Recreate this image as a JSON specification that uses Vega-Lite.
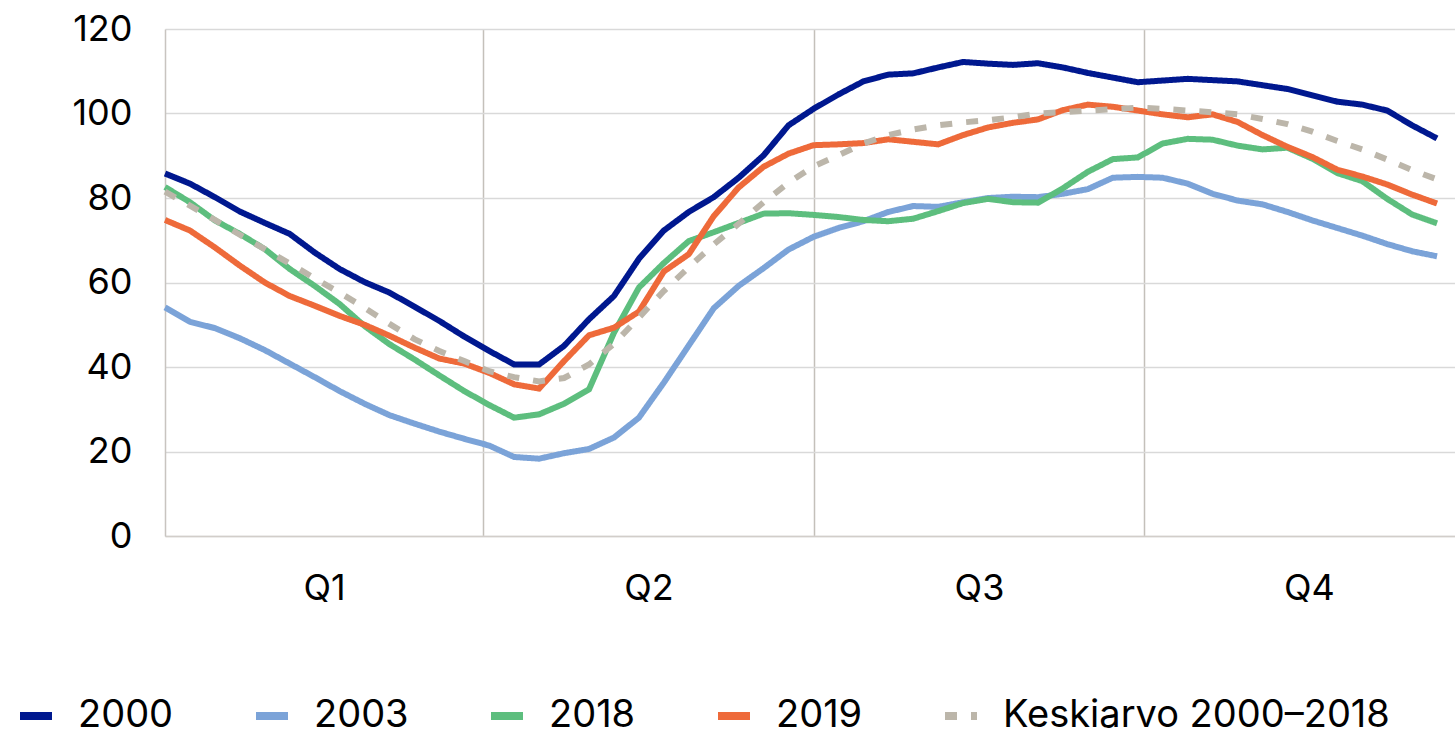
{
  "$schema": "https://vega.github.io/schema/vega-lite/v6.json",
  "width": 1290,
  "height": 507,
  "autosize": {"type": "none"},
  "padding": {"left": 165, "top": 29, "right": 0, "bottom": 202},
  "background": "white",
  "config": {"view": {"stroke": null}, "font": "Inter"},
  "data": {
    "values": [
      {"week": 1, "2000": 85.8, "2003": 54.1, "2018": 82.6, "2019": 74.8, "Keskiarvo 2000–2018": 81.5},
      {"week": 2, "2000": 83.4, "2003": 50.7, "2018": 79.0, "2019": 72.3, "Keskiarvo 2000–2018": 78.2},
      {"week": 3, "2000": 80.2, "2003": 49.2, "2018": 74.7, "2019": 68.3, "Keskiarvo 2000–2018": 74.8},
      {"week": 4, "2000": 76.8, "2003": 46.8, "2018": 71.5, "2019": 64.0, "Keskiarvo 2000–2018": 71.3},
      {"week": 5, "2000": 74.1, "2003": 44.0, "2018": 67.9, "2019": 60.0, "Keskiarvo 2000–2018": 67.9},
      {"week": 6, "2000": 71.5, "2003": 40.8, "2018": 63.2, "2019": 56.8, "Keskiarvo 2000–2018": 64.5},
      {"week": 7, "2000": 67.1, "2003": 37.6, "2018": 59.2, "2019": 54.5, "Keskiarvo 2000–2018": 61.0},
      {"week": 8, "2000": 63.2, "2003": 34.3, "2018": 54.9, "2019": 52.1, "Keskiarvo 2000–2018": 57.6},
      {"week": 9, "2000": 60.1, "2003": 31.3, "2018": 49.7, "2019": 50.0, "Keskiarvo 2000–2018": 54.0},
      {"week": 10, "2000": 57.6, "2003": 28.6, "2018": 45.4, "2019": 47.4, "Keskiarvo 2000–2018": 50.2},
      {"week": 11, "2000": 54.3, "2003": 26.6, "2018": 41.8, "2019": 44.6, "Keskiarvo 2000–2018": 46.6},
      {"week": 12, "2000": 50.9, "2003": 24.7, "2018": 38.0, "2019": 42.0, "Keskiarvo 2000–2018": 43.8},
      {"week": 13, "2000": 47.2, "2003": 23.0, "2018": 34.3, "2019": 40.8, "Keskiarvo 2000–2018": 41.4},
      {"week": 14, "2000": 43.8, "2003": 21.4, "2018": 31.0, "2019": 38.6, "Keskiarvo 2000–2018": 39.0},
      {"week": 15, "2000": 40.6, "2003": 18.7, "2018": 28.0, "2019": 35.9, "Keskiarvo 2000–2018": 37.6},
      {"week": 16, "2000": 40.6, "2003": 18.3, "2018": 28.8, "2019": 34.9, "Keskiarvo 2000–2018": 36.6},
      {"week": 17, "2000": 45.0, "2003": 19.6, "2018": 31.3, "2019": 41.4, "Keskiarvo 2000–2018": 37.4},
      {"week": 18, "2000": 51.3, "2003": 20.6, "2018": 34.7, "2019": 47.5, "Keskiarvo 2000–2018": 40.6},
      {"week": 19, "2000": 56.8, "2003": 23.3, "2018": 48.1, "2019": 49.3, "Keskiarvo 2000–2018": 45.5},
      {"week": 20, "2000": 65.6, "2003": 28.0, "2018": 58.8, "2019": 53.1, "Keskiarvo 2000–2018": 51.7},
      {"week": 21, "2000": 72.3, "2003": 36.3, "2018": 64.6, "2019": 62.6, "Keskiarvo 2000–2018": 58.0},
      {"week": 22, "2000": 76.7, "2003": 45.1, "2018": 69.8, "2019": 66.7, "Keskiarvo 2000–2018": 63.6},
      {"week": 23, "2000": 80.2, "2003": 53.9, "2018": 71.9, "2019": 75.7, "Keskiarvo 2000–2018": 69.0},
      {"week": 24, "2000": 84.8, "2003": 59.2, "2018": 74.1, "2019": 82.5, "Keskiarvo 2000–2018": 73.9},
      {"week": 25, "2000": 90.1, "2003": 63.4, "2018": 76.3, "2019": 87.4, "Keskiarvo 2000–2018": 79.0},
      {"week": 26, "2000": 97.2, "2003": 67.8, "2018": 76.4, "2019": 90.5, "Keskiarvo 2000–2018": 83.6},
      {"week": 27, "2000": 101.1, "2003": 70.8, "2018": 76.0, "2019": 92.5, "Keskiarvo 2000–2018": 87.5},
      {"week": 28, "2000": 104.5, "2003": 72.9, "2018": 75.5, "2019": 92.7, "Keskiarvo 2000–2018": 90.1},
      {"week": 29, "2000": 107.6, "2003": 74.5, "2018": 74.8, "2019": 93.0, "Keskiarvo 2000–2018": 92.9},
      {"week": 30, "2000": 109.2, "2003": 76.7, "2018": 74.5, "2019": 93.9, "Keskiarvo 2000–2018": 94.9},
      {"week": 31, "2000": 109.5, "2003": 78.1, "2018": 75.1, "2019": 93.3, "Keskiarvo 2000–2018": 96.2},
      {"week": 32, "2000": 110.9, "2003": 77.9, "2018": 76.9, "2019": 92.7, "Keskiarvo 2000–2018": 97.2},
      {"week": 33, "2000": 112.2, "2003": 79.0, "2018": 78.8, "2019": 94.9, "Keskiarvo 2000–2018": 97.9},
      {"week": 34, "2000": 111.8, "2003": 80.0, "2018": 79.8, "2019": 96.7, "Keskiarvo 2000–2018": 98.4},
      {"week": 35, "2000": 111.5, "2003": 80.3, "2018": 79.0, "2019": 97.8, "Keskiarvo 2000–2018": 99.1},
      {"week": 36, "2000": 111.9, "2003": 80.2, "2018": 78.9, "2019": 98.6, "Keskiarvo 2000–2018": 100.0},
      {"week": 37, "2000": 110.9, "2003": 81.0, "2018": 82.3, "2019": 100.8, "Keskiarvo 2000–2018": 100.3},
      {"week": 38, "2000": 109.6, "2003": 82.1, "2018": 86.2, "2019": 102.1, "Keskiarvo 2000–2018": 100.7},
      {"week": 39, "2000": 108.5, "2003": 84.8, "2018": 89.2, "2019": 101.6, "Keskiarvo 2000–2018": 101.0},
      {"week": 40, "2000": 107.4, "2003": 85.0, "2018": 89.6, "2019": 100.7, "Keskiarvo 2000–2018": 101.4},
      {"week": 41, "2000": 107.8, "2003": 84.8, "2018": 92.9, "2019": 99.8, "Keskiarvo 2000–2018": 101.1},
      {"week": 42, "2000": 108.2, "2003": 83.4, "2018": 94.0, "2019": 99.1, "Keskiarvo 2000–2018": 100.7},
      {"week": 43, "2000": 107.9, "2003": 81.0, "2018": 93.8, "2019": 99.8, "Keskiarvo 2000–2018": 100.3},
      {"week": 44, "2000": 107.6, "2003": 79.4, "2018": 92.4, "2019": 98.0, "Keskiarvo 2000–2018": 99.8},
      {"week": 45, "2000": 106.7, "2003": 78.5, "2018": 91.5, "2019": 94.9, "Keskiarvo 2000–2018": 98.7},
      {"week": 46, "2000": 105.8, "2003": 76.7, "2018": 91.9, "2019": 92.1, "Keskiarvo 2000–2018": 97.5},
      {"week": 47, "2000": 104.3, "2003": 74.7, "2018": 89.3, "2019": 89.7, "Keskiarvo 2000–2018": 95.7},
      {"week": 48, "2000": 102.8, "2003": 72.9, "2018": 85.9, "2019": 86.7, "Keskiarvo 2000–2018": 93.5},
      {"week": 49, "2000": 102.1, "2003": 71.1, "2018": 84.0, "2019": 85.1, "Keskiarvo 2000–2018": 91.5},
      {"week": 50, "2000": 100.7, "2003": 69.1, "2018": 79.8, "2019": 83.2, "Keskiarvo 2000–2018": 89.1},
      {"week": 51, "2000": 97.2, "2003": 67.4, "2018": 76.1, "2019": 80.8, "Keskiarvo 2000–2018": 86.6},
      {"week": 52, "2000": 94.1, "2003": 66.2, "2018": 74.0, "2019": 78.7, "Keskiarvo 2000–2018": 84.4}
    ]
  },
  "transform": [
    {"fold": ["2000", "2003", "2018", "2019", "Keskiarvo 2000–2018"], "as": ["series", "value"]}
  ],
  "mark": {"type": "line", "strokeWidth": 6},
  "encoding": {
    "x": {
      "field": "week",
      "type": "quantitative",
      "scale": {"domain": [1, 52.72], "nice": false, "zero": false},
      "axis": {
        "title": null,
        "values": [7.375, 13.75, 20.385, 27.02, 33.635, 40.25, 46.86],
        "labelExpr": "datum.value == 7.375 ? 'Q1' : datum.value == 20.385 ? 'Q2' : datum.value == 33.635 ? 'Q3' : datum.value == 46.86 ? 'Q4' : ''",
        "grid": true,
        "gridColor": "#C4C0BA",
        "gridWidth": 1.5,
        "gridOpacity": {"condition": {"test": "datum.value == 13.75 || datum.value == 27.02 || datum.value == 40.25", "value": 1}, "value": 0},
        "ticks": false,
        "domain": true,
        "domainColor": "#D2CECA",
        "domainWidth": 1.5,
        "labelFont": "Inter",
        "labelFontSize": 36,
        "labelColor": "#000000",
        "labelPadding": 35,
        "labelOverlap": false,
        "labelFlush": false
      }
    },
    "y": {
      "field": "value",
      "type": "quantitative",
      "scale": {"domain": [0, 120], "nice": false},
      "axis": {
        "title": null,
        "values": [0, 20, 40, 60, 80, 100, 120],
        "grid": true,
        "gridColor": "#D9D9D9",
        "gridWidth": 1.5,
        "ticks": false,
        "domain": true,
        "domainColor": "#C8C4C0",
        "domainWidth": 1.5,
        "labelFont": "Inter",
        "labelFontSize": 36,
        "labelColor": "#000000",
        "labelPadding": 33
      }
    },
    "color": {
      "field": "series",
      "type": "nominal",
      "scale": {
        "domain": ["2000", "2003", "2018", "2019", "Keskiarvo 2000–2018"],
        "range": ["#00188F", "#7BA3D8", "#5DBE7E", "#EE6A3A", "#BCB6AA"]
      },
      "legend": {
        "title": null,
        "orient": "none",
        "legendX": -149,
        "legendY": 667,
        "direction": "horizontal",
        "columns": 5,
        "labelFont": "Inter",
        "labelFontSize": 38,
        "labelColor": "#000000",
        "labelLimit": 1000,
        "symbolType": "stroke",
        "symbolSize": 1024,
        "labelOffset": 22,
        "columnPadding": 66,
        "encode": {"symbols": {"update": {
          "strokeWidth": {"value": 8},
          "strokeDash": {"signal": "datum.value === 'Keskiarvo 2000–2018' ? [14, 12] : [1, 0]"},
          "stroke": {"signal": "datum.value === '2000' ? '#2E2870' : scale('color', datum.value)"}
        }}}
      }
    },
    "strokeDash": {
      "field": "series",
      "type": "nominal",
      "scale": {
        "domain": ["2000", "2003", "2018", "2019", "Keskiarvo 2000–2018"],
        "range": [[1, 0], [1, 0], [1, 0], [1, 0], [12, 14]]
      },
      "legend": {
        "title": null,
        "orient": "none",
        "legendX": -149,
        "legendY": 667,
        "direction": "horizontal",
        "columns": 5,
        "labelFont": "Inter",
        "labelFontSize": 38,
        "labelColor": "#000000",
        "labelLimit": 1000,
        "symbolType": "stroke",
        "symbolSize": 1024,
        "labelOffset": 22,
        "columnPadding": 66,
        "encode": {"symbols": {"update": {
          "strokeWidth": {"value": 8},
          "strokeDash": {"signal": "datum.value === 'Keskiarvo 2000–2018' ? [14, 12] : [1, 0]"},
          "stroke": {"signal": "datum.value === '2000' ? '#2E2870' : scale('color', datum.value)"}
        }}}
      }
    }
  }
}
